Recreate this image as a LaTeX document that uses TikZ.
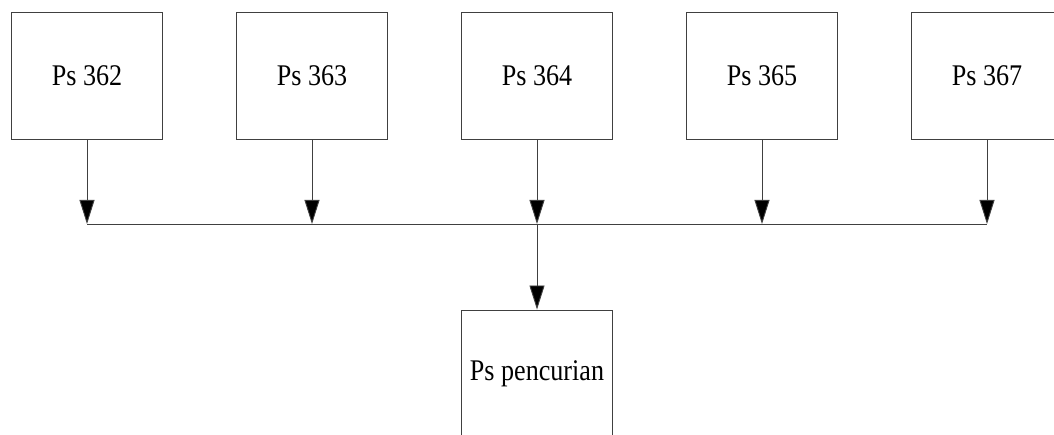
\documentclass[tikz,border=0pt]{standalone}
\usepackage{fontspec}
\setmainfont{Liberation Serif}
\newfontfamily\tnr[FakeStretch=0.87]{Liberation Serif}
\usetikzlibrary{arrows.meta}
\begin{document}
\begin{tikzpicture}[x=1pt,y=-1pt,
  box/.style={draw=black!75,line width=0.9pt,minimum width=151pt,minimum height=127pt,inner sep=0pt,font=\tnr\fontsize{30}{36}\selectfont},
  conn/.style={draw=black!75,line width=0.9pt},
  arr/.style={conn,-{Triangle[length=24pt,width=15pt,fill=black]}}]
\clip (0,0) rectangle (1054,435);
\fill[white] (0,0) rectangle (1054,435);
\node[box] (a) at (87,75.5) {Ps 362};
\node[box] (b) at (312,75.5) {Ps 363};
\node[box] (c) at (537,75.5) {Ps 364};
\node[box] (d) at (762,75.5) {Ps 365};
\node[box] (e) at (987,75.5) {Ps 367};
\node[box] (p) at (537,373.5) {Ps pencurian};
\coordinate (ja) at (87,224);
\coordinate (jb) at (312,224);
\coordinate (jc) at (537,224);
\coordinate (jd) at (762,224);
\coordinate (je) at (987,224);
\draw[arr] (a.south) -- (ja);
\draw[arr] (b.south) -- (jb);
\draw[arr] (c.south) -- (jc);
\draw[arr] (d.south) -- (jd);
\draw[arr] (e.south) -- (je);
\draw[conn] (ja) -- (je);
\draw[arr] (jc) -- (p.north);
\end{tikzpicture}
\end{document}
